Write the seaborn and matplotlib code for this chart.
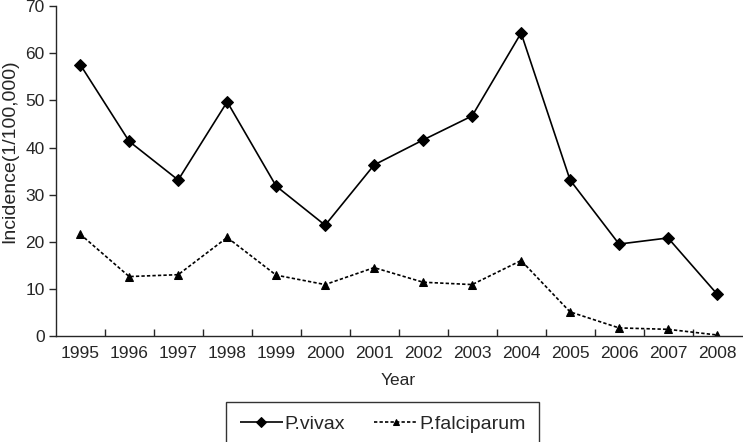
import pandas as pd
import seaborn as sns
import matplotlib.pyplot as plt

# data
years = [1995, 1996, 1997, 1998, 1999, 2000, 2001, 2002, 2003, 2004, 2005, 2006, 2007, 2008]
vivax = [57.6, 41.3, 33.1, 49.7, 31.8, 23.5, 36.3, 41.6, 46.7, 64.3, 33.1, 19.5, 20.8, 8.9]
falciparum = [21.6, 12.6, 13.0, 20.9, 12.9, 10.9, 14.5, 11.4, 10.9, 16.0, 5.1, 1.7, 1.4, 0.2]
series = ['P.vivax', 'P.falciparum']

df = pd.DataFrame({
    'pos': list(range(len(years))) * 2,
    'value': vivax + falciparum,
    'series': [series[0]] * len(years) + [series[1]] * len(years),
})

sns.set_style('ticks')
plt.rcParams['font.family'] = ['Liberation Sans', 'DejaVu Sans']
fs = 12.5

fig, ax = plt.subplots(figsize=(7.43, 4.42), dpi=100)
fig.subplots_adjust(left=0.075, right=0.998, top=0.986, bottom=0.24)

sns.lineplot(data=df, x='pos', y='value', hue='series', style='series',
             palette=['black', 'black'], markers=['D', '^'],
             dashes=[(1, 0), (2, 1.3)], markersize=6, markeredgecolor='black',
             linewidth=1.2, ax=ax, legend=True)

ax.set_xlim(-0.5, len(years) - 0.5)
ax.set_ylim(0, 70)
ax.set_yticks(range(0, 71, 10))
ax.set_xticks(range(len(years)))
ax.set_xticklabels([str(y) for y in years])
ax.tick_params(axis='x', length=0, labelsize=fs, pad=7)
# category boundary ticks pointing inward
ax.set_xticks([i + 0.5 for i in range(len(years) - 1)], minor=True)
ax.tick_params(axis='x', which='minor', direction='in', length=5, width=1)
ax.tick_params(axis='y', direction='out', length=5, width=1, labelsize=fs, pad=3)
for s in ['top', 'right']:
    ax.spines[s].set_visible(False)
ax.spines['left'].set_linewidth(1)
ax.spines['bottom'].set_linewidth(1)
ax.set_xlabel('Year', fontsize=fs, labelpad=9)
ax.set_ylabel('Incidence(1/100,000)', fontsize=14)
ax.yaxis.set_label_coords(-0.055, 0.56)

handles, labels = ax.get_legend_handles_labels()
for h in handles:
    h.set_markersize(5)
leg = ax.legend(handles, labels, loc='upper center', bbox_to_anchor=(0.477, -0.2),
                ncol=2, frameon=True, fancybox=False, edgecolor='black',
                fontsize=14, handlelength=2.2, columnspacing=1.5,
                borderpad=0.7, handletextpad=0.1, borderaxespad=0)
leg.get_frame().set_linewidth(1)

plt.savefig('out.png', dpi=100)
